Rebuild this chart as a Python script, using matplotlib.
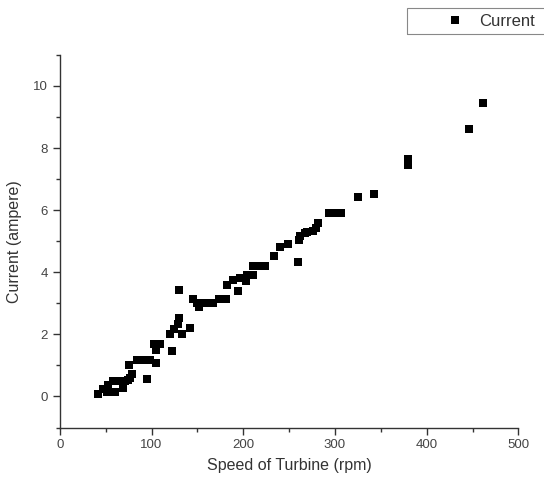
import matplotlib
matplotlib.use('Agg')
import matplotlib.pyplot as plt
from matplotlib.patches import Rectangle
from matplotlib.ticker import MultipleLocator

plt.rcParams['font.family'] = ['Liberation Sans', 'DejaVu Sans']

# turbine speed (rpm) vs current (ampere)
speed = [42, 47, 51, 53, 58, 60, 64, 69, 71, 74, 75, 76, 79,
         84, 88, 91, 95, 98, 103, 105, 105, 108, 109,
         120, 122, 125, 129, 130, 130, 133, 142,
         145, 149, 152, 158, 167, 173, 181, 182, 189, 194, 196,
         203, 204, 211, 211, 218, 224, 234, 240, 249, 260,
         261, 262, 267, 270, 276, 279, 281,
         294, 300, 307, 325, 342, 380, 380, 446, 461]
current = [0.07, 0.25, 0.16, 0.36, 0.49, 0.16, 0.51, 0.27, 0.51, 0.53, 1.03, 0.6, 0.72,
           1.19, 1.19, 1.19, 0.57, 1.19, 1.68, 1.08, 1.51, 1.68, 1.68,
           2.0, 1.48, 2.16, 2.33, 2.54, 3.43, 2.0, 2.22,
           3.14, 3.0, 2.89, 3.0, 3.0, 3.14, 3.14, 3.6, 3.76, 3.41, 3.82,
           3.73, 3.9, 3.9, 4.19, 4.19, 4.19, 4.51, 4.8, 4.92, 4.33,
           5.05, 5.17, 5.25, 5.3, 5.32, 5.43, 5.6,
           5.92, 5.92, 5.92, 6.42, 6.53, 7.47, 7.65, 8.63, 9.44]

W, H = 544, 482
fig = plt.figure(figsize=(W / 100, H / 100), dpi=100)
ax = fig.add_axes([0.110, 0.113, 0.843, 0.773])

ax.plot(speed, current, 's', color='black', ms=5.5, mew=0, label='Current')

ax.set_xlim(0, 500)
ax.set_ylim(-1, 11)
ax.xaxis.set_major_locator(MultipleLocator(100))
ax.xaxis.set_minor_locator(MultipleLocator(50))
ax.yaxis.set_major_locator(MultipleLocator(2))
ax.yaxis.set_minor_locator(MultipleLocator(1))

for s in ['top', 'right']:
    ax.spines[s].set_visible(False)
for s in ['left', 'bottom']:
    ax.spines[s].set_color('#333333')
    ax.spines[s].set_linewidth(1.0)

ax.tick_params(which='major', direction='out', length=5, width=1, colors='#333333',
               labelsize=9.5, labelcolor='#444444')
ax.tick_params(which='minor', direction='out', length=3, width=1, colors='#333333')

ax.set_xlabel('Speed of Turbine (rpm)', fontsize=11.5, color='#333333', labelpad=5)
ax.set_ylabel('Current (ampere)', fontsize=11.5, color='#333333', labelpad=8)

# Origin-style legend box: wide frame running off the right edge
fig.patches.append(Rectangle((407 / W, 1 - 34 / H), 140 / W, 26 / H,
                             transform=fig.transFigure, fill=False,
                             edgecolor='#888888', linewidth=0.8))
leg = fig.legend(loc='center left', bbox_to_anchor=(447 / W, 1 - 21 / H), fontsize=12,
                 frameon=False, handletextpad=0.95, handlelength=1.0,
                 borderpad=0, borderaxespad=0)
for t in leg.get_texts():
    t.set_color('#333333')

fig.savefig('out.png', dpi=100)
